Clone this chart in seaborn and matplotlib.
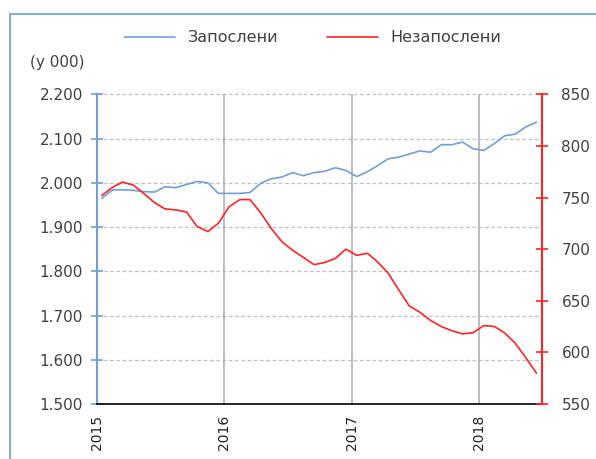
import numpy as np
import pandas as pd
import matplotlib
matplotlib.use("Agg")
import matplotlib.pyplot as plt
from matplotlib.patches import Rectangle
from matplotlib.ticker import FixedLocator, FuncFormatter
import seaborn as sns

# monthly data, Jan 2015 - Jun 2018 (thousands)
months = pd.date_range("2015-01-01", "2018-06-01", freq="MS") + pd.Timedelta(days=14)

employed = [1.965, 1.984, 1.984, 1.983, 1.980, 1.979, 1.991, 1.989, 1.996, 2.003, 2.000, 1.976,
            1.976, 1.976, 1.978, 1.999, 2.009, 2.013, 2.023, 2.016, 2.023, 2.026, 2.034, 2.028,
            2.014, 2.025, 2.038, 2.054, 2.058, 2.065, 2.072, 2.069, 2.086, 2.086, 2.092, 2.077,
            2.073, 2.089, 2.106, 2.110, 2.126, 2.137]

unemployed = [752, 760, 765, 762, 754, 745, 739, 738, 736, 722, 717, 725,
              741, 748, 748, 735, 720, 707, 699, 692, 685, 687, 691, 700,
              694, 696, 688, 677, 661, 645, 639, 631, 625, 621, 618, 619,
              626, 625, 619, 609, 595, 580]

left_ticks = [1.5, 1.6, 1.7, 1.8, 1.9, 2.0, 2.1, 2.2]
right_ticks = [550, 600, 650, 700, 750, 800, 850]
years = ["2015", "2016", "2017", "2018"]

blue = "#72A0D6"
red = "#FF2424"
txt = "#404040"

sns.set_style("white")
plt.rcParams['font.family'] = ['DejaVu Sans']

fig = plt.figure(figsize=(5.96, 4.59), dpi=100)
ax = fig.add_axes([0.1628, 0.1198, 0.7466, 0.6748])
ax2 = ax.twinx()

# outer chart border
fig.patches.append(Rectangle((10 / 596, -0.1), 1.2, 1 - 14 / 459 + 0.1, transform=fig.transFigure,
                             fill=False, edgecolor="#6E9BD6", linewidth=1.2))

df = pd.DataFrame({"date": months, "emp": employed, "unemp": unemployed})
sns.lineplot(data=df, x="date", y="emp", ax=ax, color=blue, linewidth=1.2, label="Запослени", legend=False)
sns.lineplot(data=df, x="date", y="unemp", ax=ax2, color=red, linewidth=1.2, label="Незапослени", legend=False)

ax.set_xlim(pd.Timestamp("2015-01-01"), pd.Timestamp("2018-07-01"))
ax.set_ylim(1.5, 2.2)
ax2.set_ylim(550, 850)

year_dates = [pd.Timestamp(f"{y}-01-01") for y in years]
ax.set_xticks(year_dates)
ax.set_xticklabels(years, rotation=90, fontsize=10, color="#202020")
ax.yaxis.set_major_locator(FixedLocator(left_ticks))
ax.yaxis.set_major_formatter(FuncFormatter(lambda v, p: f"{v:.3f}"))
ax2.yaxis.set_major_locator(FixedLocator(right_ticks))

ax.tick_params(axis="y", direction="inout", length=8, width=1.2, color=blue, labelsize=11,
               labelcolor=txt, pad=6)
ax2.tick_params(axis="y", direction="inout", length=8, width=1.2, color=red, labelsize=11,
                labelcolor=txt, pad=10)
ax.tick_params(axis="x", direction="inout", length=8, width=1.2, color="black", pad=4)

# gridlines
ax.grid(False)
ax2.grid(False)
for v in left_ticks[1:]:
    ax.axhline(v, color="#C0C0C0", linestyle=(0, (3, 2)), linewidth=0.9, zorder=0, clip_on=False)
for d in year_dates[1:]:
    ax.axvline(d, color="#B0B0B0", linewidth=1.2, zorder=0)

for a in (ax, ax2):
    a.set_xlabel("")
    a.set_ylabel("")
    a.spines["top"].set_visible(False)
ax.spines["right"].set_visible(False)
ax.spines["left"].set_color(blue)
ax.spines["left"].set_linewidth(1.5)
ax.spines["bottom"].set_color("black")
ax.spines["bottom"].set_linewidth(1.2)
ax2.spines["left"].set_visible(False)
ax2.spines["bottom"].set_visible(False)
ax2.spines["right"].set_color(red)
ax2.spines["right"].set_linewidth(1.5)

fig.text(30 / 596, 1 - 62 / 459, "(у 000)", fontsize=11, color=txt, va="center")

h1, l1 = ax.get_legend_handles_labels()
h2, l2 = ax2.get_legend_handles_labels()
fig.legend(h1 + h2, l1 + l2, loc="center", bbox_to_anchor=(0.525, 1 - 38 / 459), ncol=2,
           frameon=False, fontsize=11.5, handlelength=3.2, columnspacing=3, labelcolor=txt)

fig.savefig("out.png", dpi=100)
